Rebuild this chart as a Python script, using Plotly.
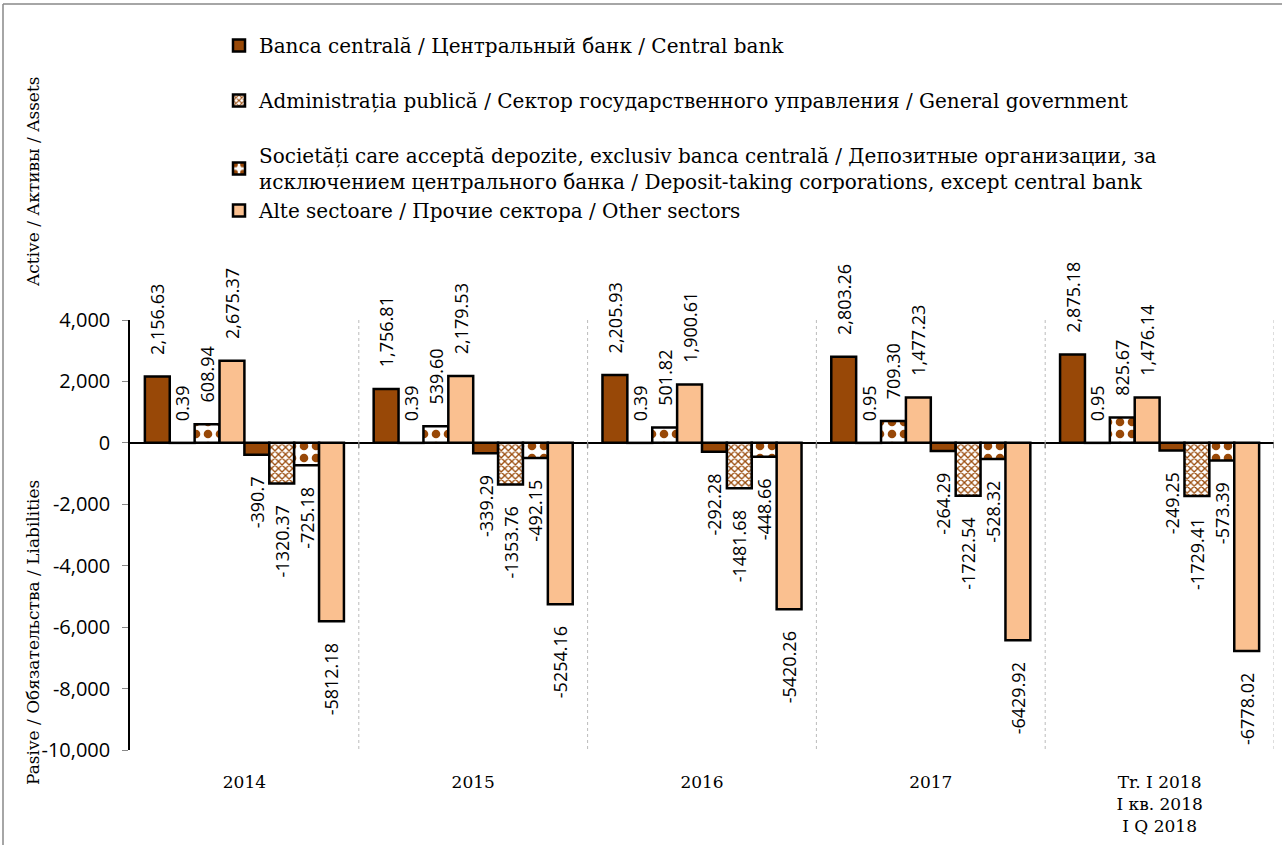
import plotly.graph_objects as go

# categories and values
years = ["2014", "2015", "2016", "2017", "Tr. I 2018<br>I кв. 2018<br>I Q 2018"]

assets_cb = [2156.63, 1756.81, 2205.93, 2803.26, 2875.18]
assets_gg = [0.39, 0.39, 0.39, 0.95, 0.95]
assets_dtc = [608.94, 539.60, 501.82, 709.30, 825.67]
assets_os = [2675.37, 2179.53, 1900.61, 1477.23, 1476.14]

liab_cb = [-390.7, -339.29, -292.28, -264.29, -249.25]
liab_gg = [-1320.37, -1353.76, -1481.68, -1722.54, -1729.41]
liab_dtc = [-725.18, -492.15, -448.66, -528.32, -573.39]
liab_os = [-5812.18, -5254.16, -5420.26, -6429.92, -6778.02]

names = [
    "Banca centrală / Центральный банк / Central bank",
    "Administrația publică / Сектор государственного управления / General government",
    "Societăți care acceptă depozite, exclusiv banca centrală / Депозитные организации, за<br>"
    "исключением центрального банка / Deposit-taking corporations, except central bank",
    "Alte sectoare / Прочие сектора / Other sectors",
]

y_ticks = [4000, 2000, 0, -2000, -4000, -6000, -8000, -10000]

BROWN = "#984807"
PEACH = "#FAC090"
SERIF = "DejaVu Serif"
SANS = "Open Sans"
PAD = "\u00a0" * 4

markers = [
    dict(color=BROWN),
    dict(color="white", pattern=dict(shape="x", fgcolor=BROWN, bgcolor="white",
                                     fgopacity=1, size=5, solidity=0.45)),
    dict(color="white", pattern=dict(shape=".", fgcolor=BROWN, bgcolor="white",
                                     fgopacity=1, size=12, solidity=0.4)),
    dict(color=PEACH),
]
groups = ["g1", "g2", "g3", "g3"]

fig = go.Figure()
for i, vals in enumerate([assets_cb, assets_gg, assets_dtc, assets_os]):
    m = dict(markers[i])
    m["line"] = dict(color="black", width=2.5)
    fig.add_trace(go.Bar(x=years, y=vals, name=names[i], marker=m,
                         legendgroup=groups[i],
                         text=[PAD + f"{v:,.2f}" for v in vals], textposition="outside",
                         textangle=-90, cliponaxis=False, constraintext="none",
                         textfont=dict(family=SANS, size=18, color="black")))
for i, vals in enumerate([liab_cb, liab_gg, liab_dtc, liab_os]):
    m = dict(markers[i])
    m["line"] = dict(color="black", width=2.5)
    fig.add_trace(go.Bar(x=years, y=vals, name=names[i], marker=m,
                         legendgroup=groups[i], showlegend=False,
                         text=[f"{v:g}" + PAD for v in vals], textposition="outside",
                         textangle=-90, cliponaxis=False, constraintext="none",
                         textfont=dict(family=SANS, size=18, color="black")))

L, R, T, B = 130, 8, 320, 95
W, H = 1282, 845
pw, ph = W - L - R, H - T - B


def px_x(px):
    return (px - L) / pw


def px_y(py):
    return (H - B - py) / ph


shapes = []
for k in range(len(years)):
    xb = k + 0.5
    shapes.append(dict(type="line", xref="x", yref="y", x0=xb, x1=xb, y0=4000, y1=-10000,
                       line=dict(color="#bbbbbb", width=1, dash="dot")))
    shapes.append(dict(type="line", xref="x", yref="y", x0=xb, x1=xb, y0=0, y1=-170,
                       line=dict(color="#777777", width=1.5)))
# outer frame (top and left edges)
shapes.append(dict(type="line", xref="paper", yref="paper",
                   x0=px_x(3), x1=px_x(1282), y0=px_y(4), y1=px_y(4),
                   line=dict(color="#888888", width=1.5)))
shapes.append(dict(type="line", xref="paper", yref="paper",
                   x0=px_x(3), x1=px_x(3), y0=px_y(4), y1=px_y(845),
                   line=dict(color="#888888", width=1.5)))

fig.update_layout(
    width=W, height=H,
    margin=dict(l=L, r=R, t=T, b=B),
    plot_bgcolor="white", paper_bgcolor="white",
    barmode="group", bargap=0.13, bargroupgap=0,
    showlegend=True,
    legend=dict(x=px_x(219), y=px_y(26), xanchor="left", yanchor="top",
                font=dict(family=SERIF, size=20, color="black"),
                traceorder="grouped", tracegroupgap=26, bgcolor="rgba(0,0,0,0)",
                groupclick="toggleitem"),
    xaxis=dict(type="category", range=[-0.5, 4.5], showgrid=False, showline=False,
               ticks="", ticklabelstandoff=20,
               tickfont=dict(family=SERIF, size=17, color="black")),
    yaxis=dict(range=[-10000, 4000], tickvals=y_ticks,
               ticktext=[f"{v:,}" for v in y_ticks],
               showgrid=False, showline=True, linecolor="black", linewidth=1.5,
               ticks="outside", ticklen=6, tickcolor="#888888", ticklabelstandoff=8,
               zeroline=True, zerolinecolor="black", zerolinewidth=1.5,
               tickfont=dict(family=SANS, size=20, color="black")),
    shapes=shapes,
    annotations=[
        dict(text="Active / Активы / Assets", xref="paper", yref="paper",
             x=px_x(33), y=px_y(182), xanchor="center", yanchor="middle",
             textangle=-90, showarrow=False,
             font=dict(family=SERIF, size=17, color="black")),
        dict(text="Pasive / Обязательства / Liabilities", xref="paper", yref="paper",
             x=px_x(33), y=px_y(633), xanchor="center", yanchor="middle",
             textangle=-90, showarrow=False,
             font=dict(family=SERIF, size=17, color="black")),
    ],
)

fig.write_html("out.html", config={"displayModeBar": False},
               post_script="document.body.style.margin = '0';")
